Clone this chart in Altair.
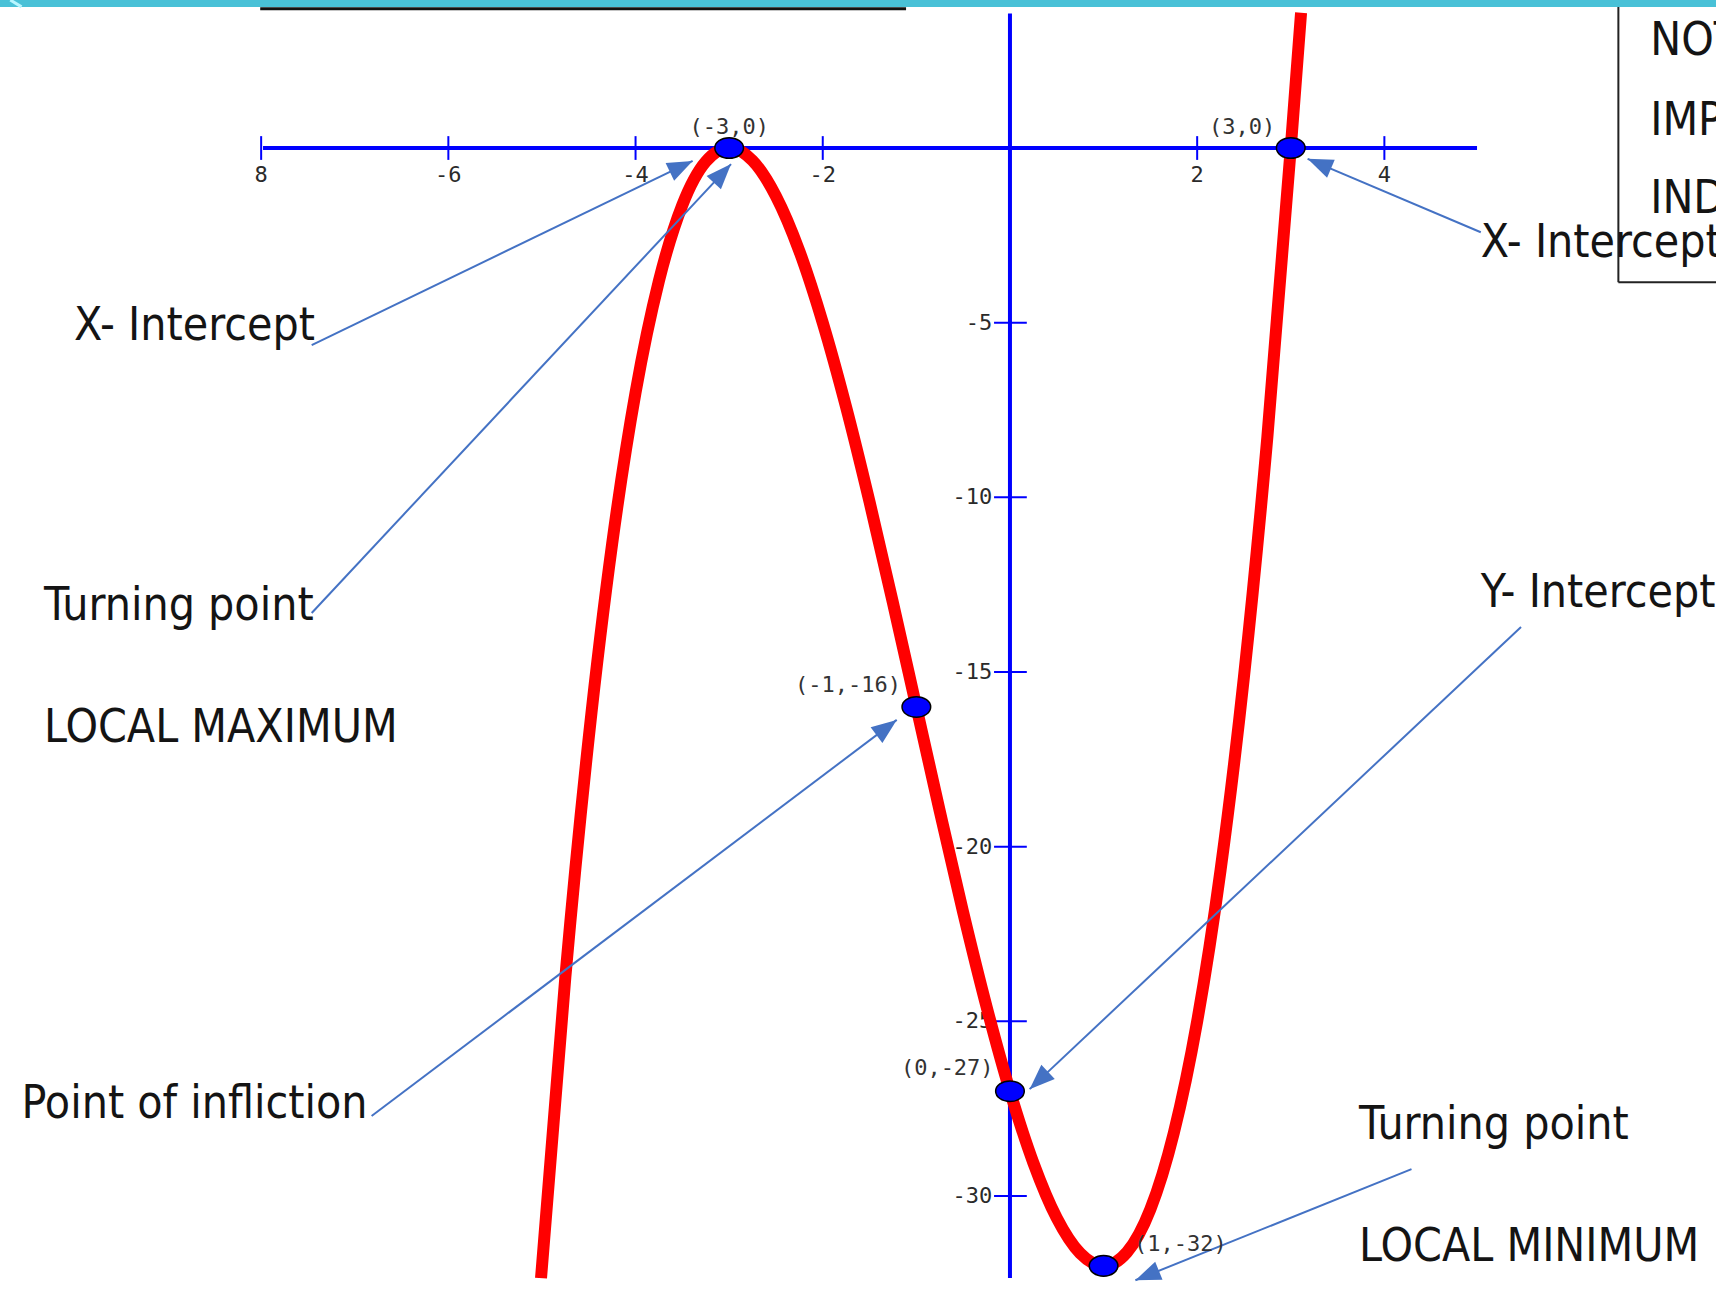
import math
import altair as alt
import pandas as pd

W, H = 1716, 1290
X_DOMAIN = [-10.79, 7.543]
Y_DOMAIN = [-32.69, 4.237]

# Cubic y = (x+3)^2 (x-3)
curve_x = [-5.01, -4.75, -4.5, -4.25, -4.0, -3.75, -3.5, -3.25, -3.0, -2.75, -2.5,
           -2.25, -2.0, -1.75, -1.5, -1.25, -1.0, -0.75, -0.5, -0.25, 0.0, 0.25,
           0.5, 0.75, 1.0, 1.25, 1.5, 1.75, 2.0, 2.25, 2.5, 2.75, 3.0, 3.11]
curve_y = [-32.35, -23.73, -16.88, -11.33, -7.0, -3.8, -1.63, -0.39, 0.0, -0.36, -1.38,
           -2.95, -5.0, -7.42, -10.13, -13.02, -16.0, -18.98, -21.88, -24.58, -27.0, -29.05,
           -30.63, -31.64, -32.0, -31.61, -30.38, -28.2, -25.0, -20.67, -15.13, -8.27, 0.0, 3.87]

# Marked points and their coordinate labels
pt_x = [-3, 3, -1, 0, 1]
pt_y = [0, 0, -16, -27, -32]
pt_label = ["(-3,0)", "(3,0)", "(-1,-16)", "(0,-27)", "(1,-32)"]
pt_label_x = [-3.0, 2.48, -1.73, -0.67, 1.82]
pt_label_y = [0.60, 0.60, -15.37, -26.34, -31.38]

# Axis ticks
x_ticks = [-8, -6, -4, -2, 2, 4]
x_tick_labels = ["8", "-6", "-4", "-2", "2", "4"]
y_ticks = [-5, -10, -15, -20, -25, -30]
y_tick_labels = ["-5", "-10", "-15", "-20", "-25", "-30"]
x_axis_span = [-7.98, 4.99]
y_axis_span = [3.85, -32.35]

# Callout texts
ann_text = ["X- Intercept", "Turning point", "LOCAL MAXIMUM", "Point of infliction",
            "X- Intercept", "Y- Intercept", "Turning point", "LOCAL MINIMUM",
            "NOT", "IMP", "IND"]
ann_x = [-10.0, -10.32, -10.32, -10.56, 5.03, 5.03, 3.73, 3.73, 6.84, 6.84, 6.84]
ann_y = [-5.50, -13.51, -17.01, -27.77, -3.12, -13.14, -28.37, -31.86, 2.66, 0.37, -1.86]

# Callout arrows: start (near text) -> tip (near point)
arr_x0 = [-7.46, -7.46, -6.82, 5.03, 5.46, 4.29]
arr_y0 = [-5.64, -13.31, -27.71, -2.41, -13.71, -29.23]
arr_x1 = [-3.39, -2.98, -1.21, 3.18, 0.21, 1.34]
arr_y1 = [-0.37, -0.46, -16.37, -0.31, -26.94, -32.41]

xs = alt.Scale(domain=X_DOMAIN, nice=False, zero=False)
ys = alt.Scale(domain=Y_DOMAIN, nice=False, zero=False)
px_x = W / (X_DOMAIN[1] - X_DOMAIN[0])
px_y = H / (Y_DOMAIN[1] - Y_DOMAIN[0])


def X(f="x"):
    return alt.X(f"{f}:Q", scale=xs, axis=None)


def Y(f="y"):
    return alt.Y(f"{f}:Q", scale=ys, axis=None)


BLUE = "#0000ff"
ARROW = "#4472c4"
SANS = "DejaVu Sans Condensed, Lato, sans-serif"
MONO = "DejaVu Sans Mono"

# slide frame: teal band, rule under it, boxed note at right
frame_rect = pd.DataFrame({"x": [X_DOMAIN[0]], "x2": [X_DOMAIN[1]], "y": [Y_DOMAIN[1]], "y2": [4.04]})
band = alt.Chart(frame_rect).mark_rect(color="#49c1d7").encode(
    x=X(), x2="x2:Q", y=Y(), y2="y2:Q")

frame_lines = pd.DataFrame({
    "x": [-10.68, -8.01, 6.50, 6.50],
    "x2": [-10.56, -1.11, 6.50, X_DOMAIN[1]],
    "y": [4.237, 3.99, 4.04, -3.84],
    "y2": [4.04, 3.99, -3.84, -3.84],
    "c": ["#b8f6ff", "#111111", "#222222", "#222222"],
    "w": [3, 3, 2, 2],
})
frame = alt.Chart(frame_lines).mark_rule().encode(
    x=X(), x2="x2:Q", y=Y(), y2="y2:Q",
    color=alt.Color("c:N", scale=None), strokeWidth=alt.StrokeWidth("w:Q", scale=None))

# axes
axes_df = pd.DataFrame({
    "x": [x_axis_span[0], 0.0], "x2": [x_axis_span[1], 0.0],
    "y": [0.0, y_axis_span[0]], "y2": [0.0, y_axis_span[1]],
})
axes = alt.Chart(axes_df).mark_rule(color=BLUE, strokeWidth=4).encode(
    x=X(), x2="x2:Q", y=Y(), y2="y2:Q")

xt_df = pd.DataFrame({"x": x_ticks, "y": [0.34] * len(x_ticks), "y2": [-0.34] * len(x_ticks),
                      "label": x_tick_labels, "ly": [-0.78] * len(x_ticks)})
yt_df = pd.DataFrame({"y": y_ticks, "x": [-0.17] * len(y_ticks), "x2": [0.18] * len(y_ticks),
                      "label": y_tick_labels, "lx": [-0.19] * len(y_ticks)})
x_tick_marks = alt.Chart(xt_df).mark_rule(color=BLUE, strokeWidth=2).encode(
    x=X(), y=Y(), y2="y2:Q")
y_tick_marks = alt.Chart(yt_df).mark_rule(color=BLUE, strokeWidth=2).encode(
    x=X(), x2="x2:Q", y=Y())
x_tick_text = alt.Chart(xt_df).mark_text(font=MONO, fontSize=22, color="#2a2a2a",
                                         baseline="middle", align="center").encode(
    x=X(), y=Y("ly"), text="label:N")
y_tick_text = alt.Chart(yt_df).mark_text(font=MONO, fontSize=22, color="#2a2a2a",
                                         baseline="middle", align="right").encode(
    x=X("lx"), y=Y(), text="label:N")

# the curve
curve = alt.Chart(pd.DataFrame({"x": curve_x, "y": curve_y})).mark_line(
    color="#ff0000", strokeWidth=12, interpolate="monotone").encode(
    x=X(), y=Y(), order="x:Q")

# arrows
arr_df = pd.DataFrame({"x": arr_x0, "y": arr_y0, "x2": arr_x1, "y2": arr_y1})
arr_df["angle"] = [
    math.degrees(math.atan2((x1 - x0) * px_x, (y1 - y0) * px_y)) % 360
    for x0, y0, x1, y1 in zip(arr_x0, arr_y0, arr_x1, arr_y1)
]
arrow_lines = alt.Chart(arr_df).mark_rule(color=ARROW, strokeWidth=2).encode(
    x=X(), x2="x2:Q", y=Y(), y2="y2:Q")
arrow_heads = alt.Chart(arr_df).mark_point(
    shape="M0,0L0.62,1.6L-0.62,1.6Z", filled=True, color=ARROW, opacity=1, size=1000,
    strokeWidth=0).encode(
    x=X("x2"), y=Y("y2"), angle=alt.Angle("angle:Q", scale=None))

# marked points
pts_df = pd.DataFrame({"x": pt_x, "y": pt_y, "label": pt_label,
                       "lx": pt_label_x, "ly": pt_label_y})
dots = alt.Chart(pts_df).mark_point(
    shape="M-1,0A1,0.72,0,1,1,1,0A1,0.72,0,1,1,-1,0Z", filled=True, fill=BLUE,
    stroke="#000000", strokeWidth=1.5, opacity=1, size=820).encode(x=X(), y=Y())
dot_labels = alt.Chart(pts_df).mark_text(font=MONO, fontSize=22, color="#333333",
                                         baseline="middle", align="center").encode(
    x=X("lx"), y=Y("ly"), text="label:N")

# callout text
ann_df = pd.DataFrame({"x": ann_x, "y": ann_y, "t": ann_text})
ann = alt.Chart(ann_df).mark_text(font=SANS, fontSize=46, color="#141414",
                                  align="left", baseline="alphabetic").encode(
    x=X(), y=Y(), text="t:N")

chart = alt.layer(
    band, frame, axes, x_tick_marks, y_tick_marks, x_tick_text, y_tick_text,
    curve, arrow_lines, arrow_heads, dots, dot_labels, ann,
).properties(
    width=W, height=H, autosize=alt.AutoSizeParams(type="none"), padding=0,
    background="#ffffff",
).configure_view(stroke=None)

chart.save("out.html", embed_options={"renderer": "svg", "actions": False})
